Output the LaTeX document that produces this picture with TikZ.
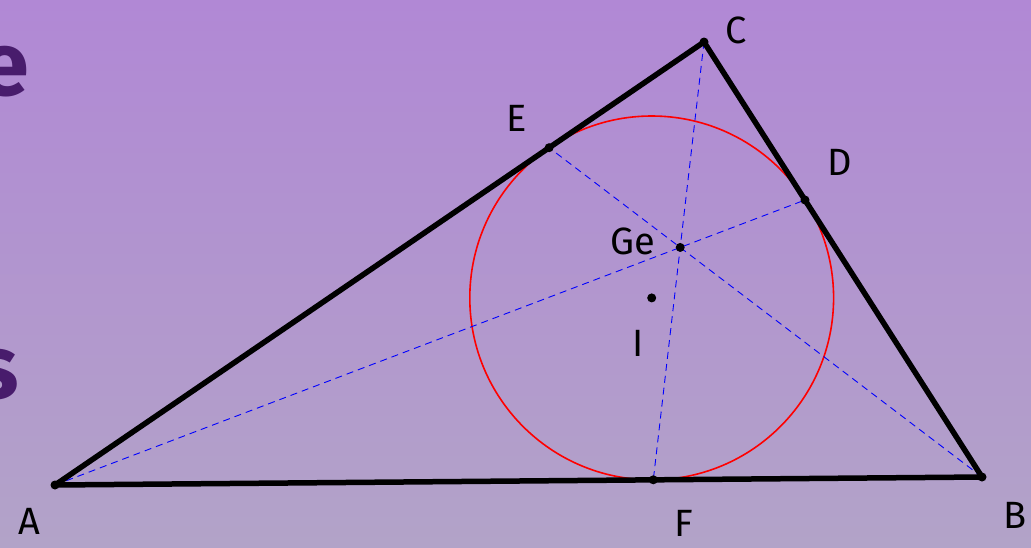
\documentclass[tikz,border=0pt]{standalone}
\usepackage{fontspec}
\setmainfont{Fira Sans}
\usetikzlibrary{calc}
\definecolor{bgtop}{RGB}{177,136,213}
\definecolor{bgbot}{RGB}{178,163,200}
\definecolor{ink}{RGB}{72,28,108}
\newcommand*{\lw}{5.5}

\begin{document}
\begin{tikzpicture}[
   x=1pt, y=-1pt,
   side/.style={draw=black, line width=\lw, line join=round, line cap=round},
   ceva/.style={draw=blue, dash pattern=on 7pt off 5pt, line width=0.9},
   incirc/.style={draw=red, line width=1.6},
   dot/.style={circle, fill=black, inner sep=0, minimum size=9},
   lbl/.style={text=black, inner sep=0, font=\fontsize{38}{42}\selectfont},
   bigtxt/.style={text=ink, inner sep=0, font=\fontsize{90}{96}\selectfont\bfseries}
  ]

  \useasboundingbox (0, 0) rectangle (1031, 547);
  \clip (0, 0) rectangle (1031, 547);
  \shade[top color=bgtop, bottom color=bgbot] (0, 0) rectangle (1031, 547);

  % cut off words on the left
  \node (w1) at (29, 72) [bigtxt, anchor=east] {e};
  \node (w2) at (19, 375) [bigtxt, anchor=east] {s};

  % Triangle and contact points
  \coordinate (A) at (55, 485);
  \coordinate (B) at (982, 477);
  \coordinate (C) at (704, 42);
  \coordinate (I) at (651.7, 297.9);
  \coordinate (D) at (805.0, 200.0);
  \coordinate (E) at (549.1, 147.7);
  \coordinate (F) at (653.3, 479.8);
  \coordinate (Ge) at (intersection of A--D and B--E);

  \draw[incirc] (I) circle (181.9);

  \foreach \B/\E in {A/D, B/E, C/F} {
    \draw[ceva] (\B) -- (\E);
  }

  \draw[side] (A) -- (B) -- (C) -- cycle;

  \foreach \P in {A, B, C, D, E, F, Ge, I} {
    \node (d\P) at (\P) [dot] {};
  }

  \node (lA) at (29, 521) [lbl] {A};
  \node (lB) at (1015, 515) [lbl] {B};
  \node (lC) at (736, 30) [lbl] {C};
  \node (lD) at (840, 162) [lbl] {D};
  \node (lE) at (517, 118) [lbl] {E};
  \node (lF) at (684, 523) [lbl] {F};
  \node (lGe) at (633, 241) [lbl] {Ge};
  \node (lI) at (638, 343) [lbl] {I};

\end{tikzpicture}
\end{document}
